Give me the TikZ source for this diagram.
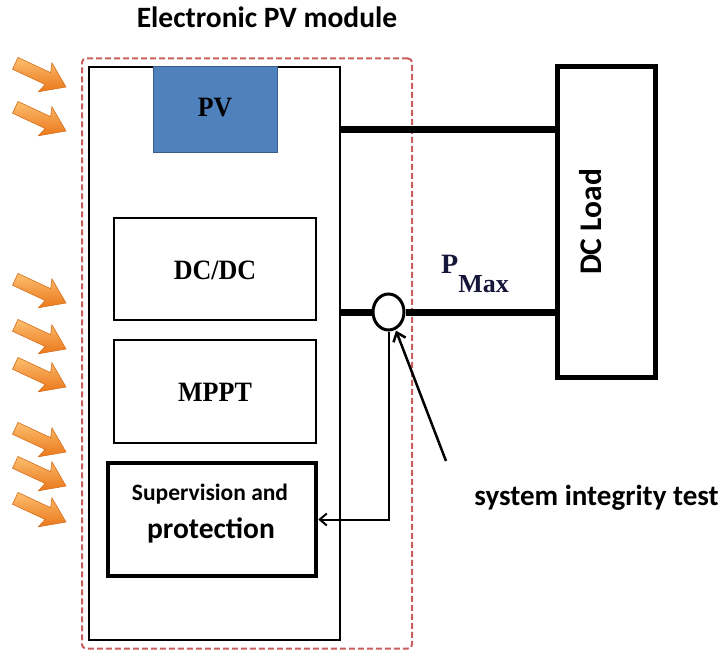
\documentclass[tikz,border=0pt]{standalone}
\usepackage{fontspec}
\setmainfont{Carlito}
\newfontfamily\tnr{Liberation Serif}
\usetikzlibrary{arrows.meta,shapes.geometric}
\definecolor{pvblue}{RGB}{79,129,189}
\definecolor{pvedge}{RGB}{56,93,138}
\definecolor{dashred}{RGB}{200,95,92}
\definecolor{orlight}{RGB}{252,190,110}
\definecolor{ordark}{RGB}{234,120,28}
\definecolor{oredge}{RGB}{214,110,28}
\definecolor{pmaxcol}{RGB}{22,22,58}
\tikzset{
  box/.style={draw, line width=2pt, inner sep=0pt},
  serifbig/.style={font=\tnr\bfseries\fontsize{28}{30}\selectfont},
  calbold/.style={font=\bfseries\fontsize{#1}{#1}\selectfont},
  wire/.style={line width=7pt},
  thinwire/.style={line width=2pt},
  sunarrow/.pic={
    \shade[top color=orlight, bottom color=ordark, draw=oredge, line width=0.6pt]
      (0,0) -- (-23,16) -- (-20,6.5) -- (-56,6.5) -- (-56,-6.5) -- (-20,-6.5) -- (-23,-16) -- cycle;
  }
}
\begin{document}
\begin{tikzpicture}[x=1pt,y=-1pt]
\useasboundingbox (0,0) rectangle (726,650);

% title
\node[calbold=29.5, anchor=base] (title) at (267,28) {Electronic PV module};

% dashed module frame
\node[draw=dashred, dash pattern=on 6pt off 3pt, line width=2pt, rounded corners=4pt,
      minimum width=330pt, minimum height=590pt, inner sep=0pt] (frame) at (247,353.5) {};

% outer module box
\node[draw, line width=2.2pt, minimum width=251pt, minimum height=573pt, inner sep=0pt] (module) at (214.5,353.5) {};

% PV
\node[draw=pvedge, fill=pvblue, line width=1pt, minimum width=124pt, minimum height=86pt, inner sep=0pt] (pv) at (215,110) {};
\node[serifbig] (pvtext) at (215,108) {\scalebox{0.92}[1]{PV}};

% DC/DC and MPPT
\node[box, minimum width=202pt, minimum height=102pt] (dcdc) at (215,269) {};
\node[serifbig] (dcdctext) at (215,270) {\scalebox{0.93}[1]{DC/DC}};
\node[box, minimum width=202pt, minimum height=103pt] (mppt) at (215,391.5) {};
\node[serifbig] (mppttext) at (215,392) {\scalebox{0.93}[1]{MPPT}};

% Supervision
\node[draw, line width=4.5pt, minimum width=208pt, minimum height=113pt, inner sep=0pt] (sup) at (212,519.5) {};
\node[calbold=23.5, anchor=base] (suptext1) at (210,500) {Supervision and};
\node[calbold=29.5, anchor=base] (suptext2) at (211,538) {protection};

% DC load
\node[draw, line width=5pt, minimum width=98pt, minimum height=310pt, inner sep=0pt] (load) at (606,222) {};
\node[calbold=31.5, rotate=90] (loadtext) at (591,222) {DC Load};

% wires
\coordinate (m1) at (341,130);
\draw[wire] (m1) -- (load.west |- m1);
\node[draw, ellipse, line width=3pt, minimum width=31pt, minimum height=36pt, inner sep=0pt, fill=white] (sense) at (388.5,312) {};
\draw[wire] (module.east |- sense) -- (sense.west);
\draw[wire] (sense.east) -- (load.west |- sense);

% feedback to supervision
\draw[thinwire, -{Straight Barb[length=7pt,width=12pt]}] (sense.south) |- (sup.east);

% P_Max
\node[font=\tnr\bfseries, text=pmaxcol, anchor=base west, inner sep=0pt] (pmax) at (441,273)
  {\fontsize{28}{30}\selectfont P\raisebox{-19pt}{\fontsize{26}{28}\selectfont Max}};

% system integrity test
\node[calbold=29, anchor=base] (itest) at (596.5,505) {system integrity test};
\coordinate (itail) at (446,461);
\draw[line width=2.5pt, -{Straight Barb[length=8pt,width=13pt]}, shorten >=1pt] (itail) -- (sense.-68);

% sun arrows
\foreach \yy in {87,131,303,349,387,452,486,522}
  \pic[rotate=-25] at (66,\yy) {sunarrow};
\end{tikzpicture}
\end{document}
